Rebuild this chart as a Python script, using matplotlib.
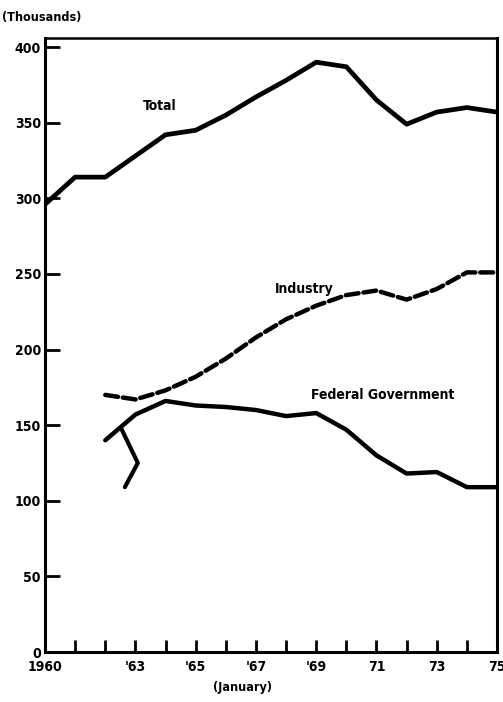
import matplotlib.pyplot as plt
import numpy as np

plt.rcParams['font.family'] = ['DejaVu Sans']
plt.rcParams['font.stretch'] = 'condensed'

years = [1960, 1961, 1962, 1963, 1964, 1965, 1966, 1967, 1968, 1969, 1970, 1971, 1972, 1973, 1974, 1975]
total = [296, 314, 314, 328, 342, 345, 355, 367, 378, 390, 387, 365, 349, 357, 360, 357]

ind_years = [1962, 1963, 1964, 1965, 1966, 1967, 1968, 1969, 1970, 1971, 1972, 1973, 1974, 1975]
industry = [170, 167, 173, 182, 194, 208, 220, 229, 236, 239, 233, 240, 251, 251]

fed_years = [1962, 1963, 1964, 1965, 1966, 1967, 1968, 1969, 1970, 1971, 1972, 1973, 1974, 1975]
federal = [140, 157, 166, 163, 162, 160, 156, 158, 147, 130, 118, 119, 109, 109]

# odd hook drawn near the start of the federal line
hook_x = [1962.55, 1963.08, 1962.65]
hook_y = [147, 125, 109]

tick_years = list(range(1960, 1976))
tick_labels = {1960: "1960", 1963: "'63", 1965: "'65", 1967: "'67", 1969: "'69",
               1971: "71", 1973: "73", 1975: "75"}

fig = plt.figure(figsize=(5.03, 7.02), dpi=100)
ax = fig.add_axes([45 / 503, 50 / 702, 452 / 503, 614 / 702])

ax.plot(years, total, color='black', lw=3.4, solid_capstyle='round', solid_joinstyle='round')
ax.plot(ind_years, industry, color='black', lw=3.2, dashes=(2.9, 1.1), dash_capstyle='round')
ax.plot(fed_years, federal, color='black', lw=3.2, solid_capstyle='round', solid_joinstyle='round')
ax.plot(hook_x, hook_y, color='black', lw=3.0, solid_capstyle='round')

ax.set_xlim(1960, 1975)
ax.set_ylim(0, 406)

ax.set_yticks(np.arange(0, 401, 50))
ax.set_yticklabels([str(v) for v in range(0, 401, 50)], fontsize=10, fontweight='bold')
ax.set_xticks(tick_years)
ax.set_xticklabels([tick_labels.get(y, "") for y in tick_years], fontsize=10, fontweight='bold')

ax.tick_params(axis='y', direction='in', length=11, width=2, pad=3)
ax.tick_params(axis='x', direction='in', length=9, width=2, pad=6)

for side in ['left', 'bottom', 'right']:
    ax.spines[side].set_linewidth(2.2)
ax.spines['top'].set_linewidth(1.8)

ax.text(1963.8, 361, "Total", fontsize=10, fontweight='bold', ha='center', va='center')
ax.text(1968.6, 240, "Industry", fontsize=10, fontweight='bold', ha='center', va='center')
ax.text(1971.2, 170, "Federal Government", fontsize=10, fontweight='bold', ha='center', va='center')

fig.text(2 / 503, 1 - 18 / 702, "(Thousands)", fontsize=9, fontweight='bold', ha='left', va='center')
fig.text(243 / 503, 1 - 688 / 702, "(January)", fontsize=9, fontweight='bold', ha='center', va='center')

fig.savefig('out.png', dpi=100)
